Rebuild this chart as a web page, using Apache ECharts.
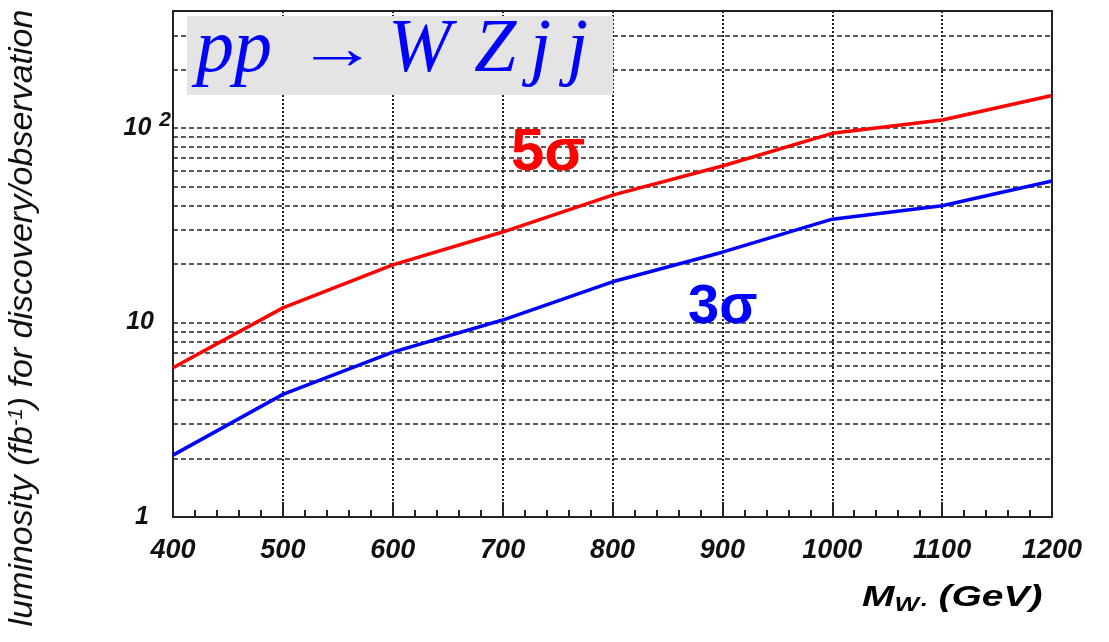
<!DOCTYPE html>
<html>
<head>
<meta charset="utf-8">
<script src="https://cdn.jsdelivr.net/npm/echarts@6/dist/echarts.min.js"></script>
<style>
html,body{margin:0;padding:0;background:#fff;}
#chart{width:1109px;height:642px;}
</style>
</head>
<body>
<div id="chart"></div>
<script>
// ---- data ----
const massValues = [400, 500, 600, 700, 800, 900, 1000, 1100, 1200];
const lumi5sigma = [5.85, 11.9, 19.8, 29.2, 45.2, 63.8, 94, 110, 147];
const lumi3sigma = [2.08, 4.27, 7.05, 10.3, 16.2, 23.0, 34.0, 39.9, 53.4];
const minorGridValues = [2,3,4,5,6,7,8,9,20,30,40,50,60,70,80,90,200,300];
const xTickLabels = ['400','500','600','700','800','900','1000','1100','1200'];

const chart = echarts.init(document.getElementById('chart'), null, {renderer:'canvas'});
const labelFont = {fontFamily:'Liberation Sans, Arial, sans-serif', fontStyle:'italic', fontWeight:'bold', color:'#111'};
const serifIt = {fontFamily:'Liberation Serif, Times New Roman, serif', fontStyle:'italic', fontSize:76, fill:'#0000ff'};

const option = {
  animation:false,
  backgroundColor:'#fff',
  grid:{left:173, right:57, top:11, bottom:125, show:true, borderColor:'#222', borderWidth:2, backgroundColor:'transparent', containLabel:false},
  xAxis:{
    type:'value', min:400, max:1200, interval:100,
    axisLine:{show:true, onZero:false, lineStyle:{color:'#222', width:2}},
    axisTick:{show:true, inside:true, length:15, lineStyle:{color:'#222', width:2}},
    minorTick:{show:true, splitNumber:5, length:7, lineStyle:{color:'#222', width:2}},
    splitLine:{show:true, lineStyle:{color:'#222', type:[2,2], width:2}},
    axisLabel:Object.assign({fontSize:27, margin:20, formatter:(v)=>{const i=massValues.indexOf(v);return i>=0?xTickLabels[i]:'';}}, labelFont)
  },
  yAxis:{
    type:'log', logBase:10, min:1, max:400,
    axisLine:{show:true, lineStyle:{color:'#222', width:2}},
    axisTick:{show:false},
    minorTick:{show:false},
    splitLine:{show:true, lineStyle:{color:'#222', type:[5,3], width:1.5}},
    axisLabel:Object.assign({fontSize:25, margin:2,
      formatter:(v)=>{ if (Math.abs(v-100)<1e-6) return '{b|10}{g|}{s|2}'; if (Math.abs(v-10)<1e-6) return '{b|10}{p|}'; if (Math.abs(v-1)<1e-6) return '{b|1}{q|}'; return ''; },
      rich:{
        b:Object.assign({fontSize:25},labelFont),
        g:{width:8},
        p:{width:17},
        q:{width:22},
        s:Object.assign({fontSize:21, verticalAlign:'top', padding:[0,0,16,0]},labelFont)}
    }, labelFont)
  },
  graphic:[
    {type:'rect', left:187, top:16, shape:{width:426, height:79}, style:{fill:'#e4e4e4'}, z:10},
    {type:'text', left:196, top:13, z:11, style:{
      text:'{a|p}{b|p}',
      rich:{a:Object.assign({width:38},serifIt), b:Object.assign({},serifIt)}}},
    {type:'text', x:297, y:52, scaleX:1.35, z:11, style:{
      text:'→', fontFamily:'Liberation Serif, serif', fontSize:60, fill:'#0000ff', verticalAlign:'middle', align:'left'}},
    {type:'text', left:388, top:13, z:11, style:{
      text:'{w|W}{z|Z}{j|j}{k|j}',
      rich:{w:Object.assign({width:86},serifIt), z:Object.assign({width:56},serifIt), j:Object.assign({width:37},serifIt), k:Object.assign({},serifIt)}}},
    {type:'text', left:511, top:123, z:11, style:{text:'5σ', fontFamily:'Liberation Sans, Arial, sans-serif', fontWeight:'bold', fontSize:60, fill:'#ff0000'}},
    {type:'text', left:688, top:280, z:11, style:{text:'3σ', fontFamily:'Liberation Sans, Arial, sans-serif', fontWeight:'bold', fontSize:56, fill:'#0000ff'}},
    {type:'text', x:862, y:598, scaleX:1.3, z:11, style:{
      text:'{m|M}{sub|W·}{m| (GeV)}', verticalAlign:'middle', align:'left',
      rich:{
        m:Object.assign({fontSize:30},labelFont),
        sub:Object.assign({fontSize:20, verticalAlign:'bottom', padding:[14,0,0,0]},labelFont)
      }}},
    {type:'text', x:23, y:318, rotation:Math.PI/2, z:11, style:{
      text:'luminosity (fb{sup|-1}) for discovery/observation',
      align:'center', verticalAlign:'middle',
      fontFamily:'Liberation Sans Narrow, Liberation Sans, Arial, sans-serif', fontStyle:'italic', fontSize:34, fill:'#111',
      rich:{sup:{fontFamily:'Liberation Sans Narrow, Liberation Sans, sans-serif', fontStyle:'italic', fontSize:20, fill:'#111', verticalAlign:'top', padding:[0,0,13,0]}}
    }}
  ],
  series:[
    {
      name:'5sigma', type:'line', data:massValues.map((m,i)=>[m,lumi5sigma[i]]),
      showSymbol:false, symbol:'none', lineStyle:{color:'#ff0000', width:3.5}, z:5,
      markLine:{silent:true, symbol:'none', label:{show:false}, animation:false,
        lineStyle:{color:'#222', type:[5,3], width:1.5},
        data:minorGridValues.map(v=>({yAxis:v}))}
    },
    {
      name:'3sigma', type:'line', data:massValues.map((m,i)=>[m,lumi3sigma[i]]),
      showSymbol:false, symbol:'none', lineStyle:{color:'#0000ff', width:3.5}, z:5
    }
  ]
};
chart.setOption(option);
</script>
</body>
</html>
